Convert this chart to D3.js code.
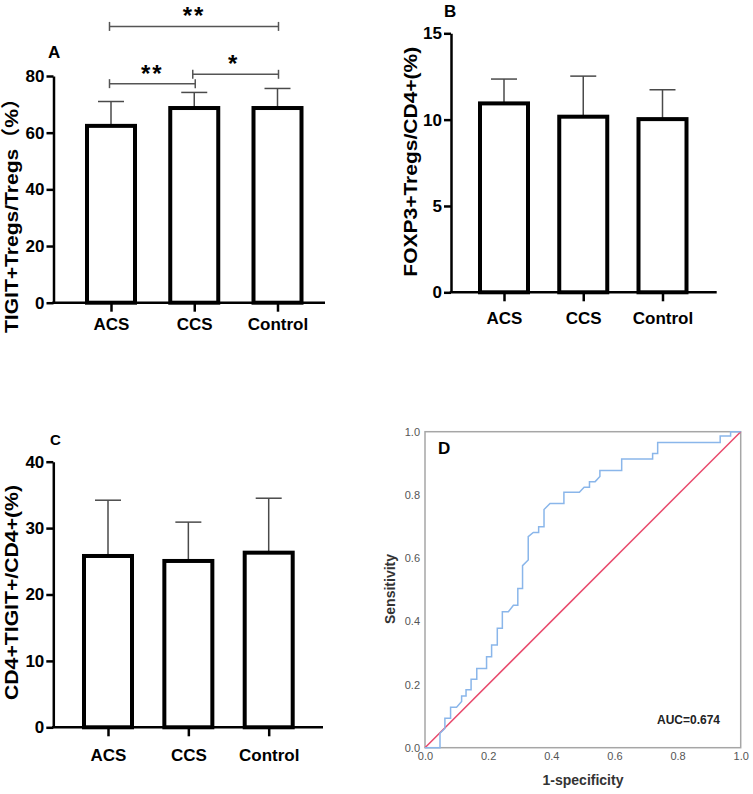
<!DOCTYPE html>
<html>
<head>
<meta charset="utf-8">
<script src="https://cdn.jsdelivr.net/npm/d3@7"></script>
<style>
  body { margin: 0; background: #fff; }
  svg { display: block; }
  text { font-family: "Liberation Sans", Arial, "Noto Sans CJK SC", sans-serif; }
</style>
</head>
<body>
<script>
// groups shared by the three bar panels
const groups = ["ACS", "CCS", "Control"];

// panel A: TIGIT+Tregs/Tregs (%)
const tigitTregMean = [62.4, 68.7, 68.7];
const tigitTregSD = [8.6, 5.5, 6.9];
const tigitTregTicks = [0, 20, 40, 60, 80];

// panel B: FOXP3+Tregs/CD4+ (%)
const foxp3Mean = [10.94, 10.17, 10.03];
const foxp3SD = [1.41, 2.35, 1.70];
const foxp3Ticks = [0, 5, 10, 15];

// panel C: CD4+TIGIT+/CD4+ (%)
const cd4TigitMean = [25.8, 25.05, 26.3];
const cd4TigitSD = [8.4, 5.85, 8.2];
const cd4TigitTicks = [0, 10, 20, 30, 40];

// significance brackets in panel A (group pairs, height in data units, label)
const sigPairs = [["ACS", "Control"], ["ACS", "CCS"], ["CCS", "Control"]];
const sigLevels = [97.5, 77.3, 80.6];
const sigLabels = ["**", "**", "*"];

// panel D: ROC curve points (1-specificity, sensitivity)
const rocFpr = [0, 0.0475, 0.0475, 0.063, 0.063, 0.081, 0.081, 0.100, 0.116, 0.116, 0.130, 0.130,
  0.146, 0.146, 0.164, 0.164, 0.195, 0.195, 0.211, 0.211, 0.229, 0.229, 0.245, 0.245, 0.264, 0.280,
  0.294, 0.294, 0.309, 0.309, 0.327, 0.327, 0.343, 0.360, 0.360, 0.377, 0.377, 0.396, 0.440, 0.440,
  0.489, 0.504, 0.521, 0.521, 0.539, 0.554, 0.554, 0.623, 0.623, 0.721, 0.721, 0.737, 0.737, 0.935,
  0.935, 0.968, 0.968, 1.0];
const rocTpr = [0, 0, 0.0456, 0.061, 0.093, 0.093, 0.128, 0.128, 0.146, 0.164, 0.164, 0.183,
  0.183, 0.217, 0.217, 0.251, 0.251, 0.288, 0.288, 0.325, 0.325, 0.378, 0.378, 0.430, 0.430, 0.451,
  0.451, 0.504, 0.504, 0.576, 0.594, 0.668, 0.681, 0.681, 0.699, 0.699, 0.754, 0.773, 0.773, 0.808,
  0.808, 0.824, 0.824, 0.842, 0.842, 0.858, 0.877, 0.877, 0.914, 0.914, 0.931, 0.931, 0.966, 0.966,
  0.986, 0.986, 1.0, 1.0];
const rocTicks = [0, 0.2, 0.4, 0.6, 0.8, 1.0];
const aucText = "AUC=0.674";

const svg = d3.select("body")
  .append("svg")
  .attr("width", 753)
  .attr("height", 794);

// draws one bar panel with error bars and axes
function barPanel(opt) {
  const g = svg.append("g");
  const y = d3.scaleLinear().domain([0, opt.yMax]).range([opt.yBottom, opt.yTop]);
  const x = d3.scalePoint().domain(groups).range(opt.xRange);
  const barW = 48;

  // error bars (mean to mean + SD, with a cap)
  g.selectAll(".err")
    .data(groups)
    .enter()
    .append("line")
    .attr("x1", d => x(d))
    .attr("x2", d => x(d))
    .attr("y1", (d, i) => y(opt.mean[i]))
    .attr("y2", (d, i) => y(opt.mean[i] + opt.sd[i]))
    .attr("stroke", "#4a4a4a")
    .attr("stroke-width", 1.5);

  g.selectAll(".cap")
    .data(groups)
    .enter()
    .append("line")
    .attr("x1", d => x(d) - 13)
    .attr("x2", d => x(d) + 13)
    .attr("y1", (d, i) => y(opt.mean[i] + opt.sd[i]))
    .attr("y2", (d, i) => y(opt.mean[i] + opt.sd[i]))
    .attr("stroke", "#4a4a4a")
    .attr("stroke-width", 1.5);

  // bars
  g.selectAll(".bar")
    .data(groups)
    .enter()
    .append("rect")
    .attr("x", d => x(d) - barW / 2)
    .attr("y", (d, i) => y(opt.mean[i]))
    .attr("width", barW)
    .attr("height", (d, i) => y(0) - y(opt.mean[i]))
    .attr("fill", "#fff")
    .attr("stroke", "#000")
    .attr("stroke-width", 4);

  // y axis
  const yAxis = g.append("g")
    .attr("transform", `translate(${opt.axisX},0)`)
    .call(d3.axisLeft(y).tickValues(opt.ticks).tickSize(7).tickSizeOuter(0).tickPadding(2));
  yAxis.select(".domain").attr("stroke", "#000").attr("stroke-width", 2.5);
  yAxis.selectAll(".tick line").attr("stroke", "#000").attr("stroke-width", 2.5);
  yAxis.selectAll(".tick text")
    .attr("fill", "#000")
    .style("font-size", "17px")
    .style("font-weight", "bold");

  // x axis
  const xAxis = g.append("g")
    .attr("transform", `translate(0,${opt.yBottom})`)
    .call(d3.axisBottom(x).tickSize(9).tickPadding(opt.xPad));
  xAxis.select(".domain").remove();
  xAxis.selectAll(".tick line").attr("stroke", "#000").attr("stroke-width", 2.5);
  xAxis.selectAll(".tick text")
    .attr("fill", "#000")
    .style("font-size", "17px")
    .style("font-weight", "bold");
  g.append("line")
    .attr("x1", opt.axisX - 1.25)
    .attr("x2", opt.xEnd)
    .attr("y1", opt.yBottom)
    .attr("y2", opt.yBottom)
    .attr("stroke", "#000")
    .attr("stroke-width", 2.5);

  // y label
  g.append("text")
    .attr("transform", `translate(${opt.labelX},${opt.labelY}) rotate(-90)`)
    .attr("text-anchor", "middle")
    .attr("textLength", opt.labelLen)
    .attr("lengthAdjust", "spacingAndGlyphs")
    .style("font-size", "19px")
    .style("font-weight", "bold")
    .text(opt.label);

  // panel letter
  g.append("text")
    .attr("x", opt.letterX)
    .attr("y", opt.letterY)
    .style("font-size", opt.letterSize + "px")
    .style("font-weight", "bold")
    .text(opt.letter);

  return { g, x, y };
}

const panelA = barPanel({
  mean: tigitTregMean, sd: tigitTregSD, ticks: tigitTregTicks, yMax: 80,
  yBottom: 302.7, yTop: 76, xRange: [111, 277.5], axisX: 53.5, xEnd: 325, xPad: 6,
  label: "TIGIT+Tregs/Tregs\uFF08%\uFF09", labelX: 18, labelY: 210.5, labelLen: 245,
  letter: "A", letterX: 48, letterY: 58, letterSize: 17
});

barPanel({
  mean: foxp3Mean, sd: foxp3SD, ticks: foxp3Ticks, yMax: 15,
  yBottom: 292.3, yTop: 33.3, xRange: [504, 662.5], axisX: 451, xEnd: 716.7, xPad: 11,
  label: "FOXP3+Tregs/CD4+(%)", labelX: 417, labelY: 161.7, labelLen: 230,
  letter: "B", letterX: 444, letterY: 17, letterSize: 17
});

barPanel({
  mean: cd4TigitMean, sd: cd4TigitSD, ticks: cd4TigitTicks, yMax: 40,
  yBottom: 727.3, yTop: 461.7, xRange: [108, 268.7], axisX: 53.3, xEnd: 323, xPad: 13,
  label: "CD4+TIGIT+/CD4+(%)", labelX: 18, labelY: 592.5, labelLen: 215,
  letter: "C", letterX: 50, letterY: 445, letterSize: 15
});

// significance brackets for panel A
const sg = panelA.g.append("g");
sigPairs.forEach((p, i) => {
  const x1 = panelA.x(p[0]) - 1.5, x2 = panelA.x(p[1]) + 1, yy = panelA.y(sigLevels[i]);
  const bracket = sg.append("g").attr("stroke", "#555").attr("stroke-width", 1.5);
  bracket.append("line").attr("x1", x1).attr("x2", x2).attr("y1", yy).attr("y2", yy);
  bracket.append("line").attr("x1", x1).attr("x2", x1).attr("y1", yy - 4.5).attr("y2", yy + 4.5);
  bracket.append("line").attr("x1", x2).attr("x2", x2).attr("y1", yy - 4.5).attr("y2", yy + 4.5);
  sg.append("text")
    .attr("x", (x1 + x2) / 2 + (i === 2 ? -2 : 0))
    .attr("y", yy - 2)
    .attr("text-anchor", "middle")
    .style("font-size", "24px")
    .style("letter-spacing", "2px")
    .style("font-weight", "bold")
    .text(sigLabels[i]);
});

// panel D: ROC curve
const rx = d3.scaleLinear().domain([0, 1]).range([425, 740.7]);
const ry = d3.scaleLinear().domain([0, 1]).range([747.7, 431.7]);
const gd = svg.append("g");

gd.append("rect")
  .attr("x", rx(0))
  .attr("y", ry(1))
  .attr("width", rx(1) - rx(0))
  .attr("height", ry(0) - ry(1))
  .attr("fill", "none")
  .attr("stroke", "#a6a6a6")
  .attr("stroke-width", 1.5);

const dx = gd.append("g")
  .attr("transform", `translate(0,${ry(0)})`)
  .call(d3.axisBottom(rx).tickValues(rocTicks).tickFormat(d3.format(".1f")).tickSize(0).tickPadding(5));
dx.select(".domain").remove();
dx.selectAll(".tick text").attr("fill", "#555").style("font-size", "11px");

const dy = gd.append("g")
  .attr("transform", `translate(${rx(0)},0)`)
  .call(d3.axisLeft(ry).tickValues(rocTicks).tickFormat(d3.format(".1f")).tickSize(0).tickPadding(5));
dy.select(".domain").remove();
dy.selectAll(".tick text").attr("fill", "#555").style("font-size", "11px");

// reference diagonal
gd.append("path")
  .datum([0, 1])
  .attr("d", d3.line().x(d => rx(d)).y(d => ry(d)))
  .attr("fill", "none")
  .attr("stroke", "#e8496c")
  .attr("stroke-width", 1.5);

gd.append("path")
  .datum(rocFpr.map((f, i) => [f, rocTpr[i]]))
  .attr("d", d3.line().x(d => rx(d[0])).y(d => ry(d[1])))
  .attr("fill", "none")
  .attr("stroke", "#8ab6ea")
  .attr("stroke-width", 1.5);

gd.append("text")
  .attr("x", 438)
  .attr("y", 453.5)
  .style("font-size", "17px")
  .style("font-weight", "bold")
  .text("D");

gd.append("text")
  .attr("x", 657)
  .attr("y", 724)
  .style("font-size", "12px")
  .style("font-weight", "bold")
  .style("fill", "#222")
  .text(aucText);

gd.append("text")
  .attr("transform", "translate(395,589) rotate(-90)")
  .attr("text-anchor", "middle")
  .style("font-size", "14px")
  .style("font-weight", "bold")
  .style("fill", "#333")
  .text("Sensitivity");

gd.append("text")
  .attr("x", 583)
  .attr("y", 785)
  .attr("text-anchor", "middle")
  .style("font-size", "14px")
  .style("font-weight", "bold")
  .style("fill", "#333")
  .text("1-specificity");
</script>
</body>
</html>
